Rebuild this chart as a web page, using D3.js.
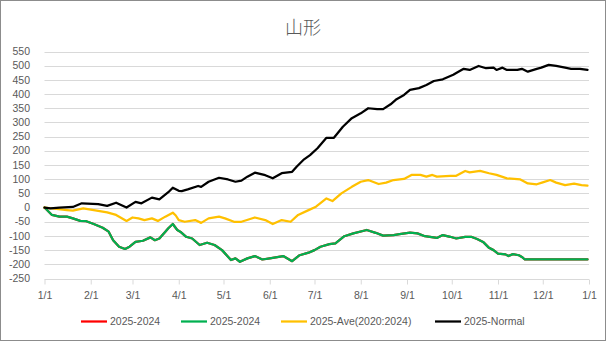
<!DOCTYPE html>
<html>
<head>
<meta charset="utf-8">
<script src="https://cdn.jsdelivr.net/npm/d3@7"></script>
<style>
  html, body { margin: 0; padding: 0; background: #fff; }
  svg { display: block; }
  text { font-family: "Liberation Sans", Arial, sans-serif; fill: #595959; }
</style>
</head>
<body>
<svg id="chart" width="606" height="341"></svg>
<script>
// ---- data (day index from 2025-01-01, value) ----
const title = "山形";
const seriesNames = ["2025-2024", "2025-2024", "2025-Ave(2020:2024)", "2025-Normal"];
const yTicks = [-250,-200,-150,-100,-50,0,50,100,150,200,250,300,350,400,450,500,550];
const xTickLabels = ["1/1","2/1","3/1","4/1","5/1","6/1","7/1","8/1","9/1","10/1","11/1","12/1","1/1"];

const diffDays = [0,5,10,15,19,24,28,33,39,43,46,50,54,57,61,66,71,74,77,81,83,86,89,91,95,99,104,109,114,119,125,128,131,136,141,146,151,160,166,171,177,181,185,191,195,201,207,216,222,227,234,238,245,250,255,263,267,272,276,282,286,290,294,298,301,304,309,311,314,318,320,322,364];
const diffVals = [0,-26,-32,-32,-38,-47,-48,-58,-71,-85,-115,-138,-146,-138,-121,-117,-105,-115,-109,-85,-73,-58,-79,-85,-103,-109,-132,-124,-132,-150,-185,-179,-191,-179,-171,-183,-179,-171,-189,-168,-159,-150,-138,-129,-126,-101,-91,-79,-89,-99,-97,-94,-88,-91,-101,-107,-97,-103,-109,-103,-103,-111,-121,-142,-150,-162,-165,-171,-164,-168,-174,-183,-183];

const aveDays = [0,8,15,19,26,33,42,48,55,59,63,67,72,76,81,86,88,90,94,101,105,110,117,121,127,132,141,148,153,159,165,170,177,182,189,193,199,206,212,217,224,229,234,241,246,252,256,260,263,272,276,282,285,292,298,303,310,319,324,330,334,339,343,349,355,360,364];
const aveVals = [0,-5,-9,-11,-3,-9,-17,-26,-47,-35,-38,-44,-38,-47,-32,-18,-28,-44,-50,-44,-54,-38,-32,-38,-50,-50,-35,-44,-58,-44,-50,-26,-9,3,32,23,50,73,91,97,83,88,97,101,115,115,109,115,109,112,112,129,124,129,121,115,103,99,85,82,89,97,88,79,84,79,77];

const normDays = [0,4,10,19,25,36,42,48,55,61,65,72,77,83,86,90,92,96,103,105,110,117,123,128,132,136,141,148,153,159,166,169,174,178,183,189,194,200,206,212,217,223,227,232,236,241,245,251,256,261,267,274,276,281,285,291,296,301,303,307,310,317,320,324,330,333,338,343,349,353,359,364];
const normVals = [0,-3,0,2,15,12,6,17,0,20,15,35,29,54,70,59,58,64,76,73,91,105,99,91,95,109,123,114,103,121,126,144,170,185,209,246,246,285,315,332,350,347,347,364,382,397,415,421,432,446,452,468,474,489,485,499,491,493,485,493,485,485,489,479,489,493,503,499,493,489,489,485];

const seriesColors = ["#FF0000", "#00B050", "#FFC000", "#000000"];

// ---- chart ----
const W = 606, H = 341;
const svg = d3.select("#chart");
const start = new Date(2025, 0, 1), end = new Date(2026, 0, 1);
const x = d3.scaleTime().domain([start, end]).range([44.5, 589]);
const y = d3.scaleLinear().domain([-250, 550]).range([278.5, 51.5]);

svg.append("rect").attr("x", 0.5).attr("y", 0.5).attr("width", W - 1).attr("height", H - 1)
  .attr("fill", "#fff").attr("stroke", "#8c8c8c");

svg.append("text").attr("x", 303).attr("y", 34).attr("text-anchor", "middle")
  .style("font-family", "'Noto Sans CJK JP', sans-serif").style("font-size", "18px")
  .style("font-weight", 300).style("fill", "#595959").text(title);

// gridlines
svg.append("g").selectAll("line").data(yTicks.filter(d => d !== -250)).join("line")
  .attr("x1", 44.5).attr("x2", 589).attr("y1", d => Math.round(y(d)) + 0.5).attr("y2", d => Math.round(y(d)) + 0.5)
  .attr("stroke", "#d9d9d9").attr("stroke-width", 1);

// y labels
svg.append("g").selectAll("text").data(yTicks).join("text")
  .attr("x", 30).attr("y", d => y(d)).attr("dy", "0.35em").attr("text-anchor", "end")
  .style("font-size", "10.5px").text(d => d);

// x axis
const monthTicks = d3.timeMonth.range(start, d3.timeDay.offset(end, 1));
const xAxis = d3.axisBottom(x).tickValues(monthTicks).tickSize(5).tickPadding(7)
  .tickFormat((d, i) => xTickLabels[i]);
const gx = svg.append("g").attr("transform", `translate(0,${Math.round(y(-250)) + 0.5})`).call(xAxis);
gx.select(".domain").attr("stroke", "#d9d9d9").attr("d", `M44.5,0H589`);
gx.selectAll(".tick line").attr("stroke", "#d9d9d9");
gx.selectAll(".tick text").style("font-family", "'Liberation Sans', Arial, sans-serif")
  .style("font-size", "10.5px").attr("fill", "#595959").style("fill", "#595959");

// lines
const mk = (days, vals) => days.map((d, i) => ({date: d3.timeDay.offset(start, d), v: vals[i]}));
const series = [mk(diffDays, diffVals), mk(diffDays, diffVals), mk(aveDays, aveVals), mk(normDays, normVals)];
const line = d3.line().x(d => x(d.date)).y(d => y(d.v)).curve(d3.curveLinear);
svg.append("g").selectAll("path").data(series).join("path")
  .attr("d", line).attr("fill", "none")
  .attr("stroke", (d, i) => seriesColors[i]).attr("stroke-width", 2.25)
  .attr("stroke-linejoin", "round").attr("stroke-linecap", "round");

// legend
const legX = [81, 181, 281, 435];
const lg = svg.append("g").selectAll("g").data(seriesNames).join("g")
  .attr("transform", (d, i) => `translate(${legX[i]},321.5)`);
lg.append("line").attr("x1", 0).attr("x2", 26).attr("stroke", (d, i) => seriesColors[i]).attr("stroke-width", 2.25);
lg.append("text").attr("x", 29).attr("dy", "0.35em").style("font-size", "10.5px").text(d => d);
</script>
</body>
</html>
